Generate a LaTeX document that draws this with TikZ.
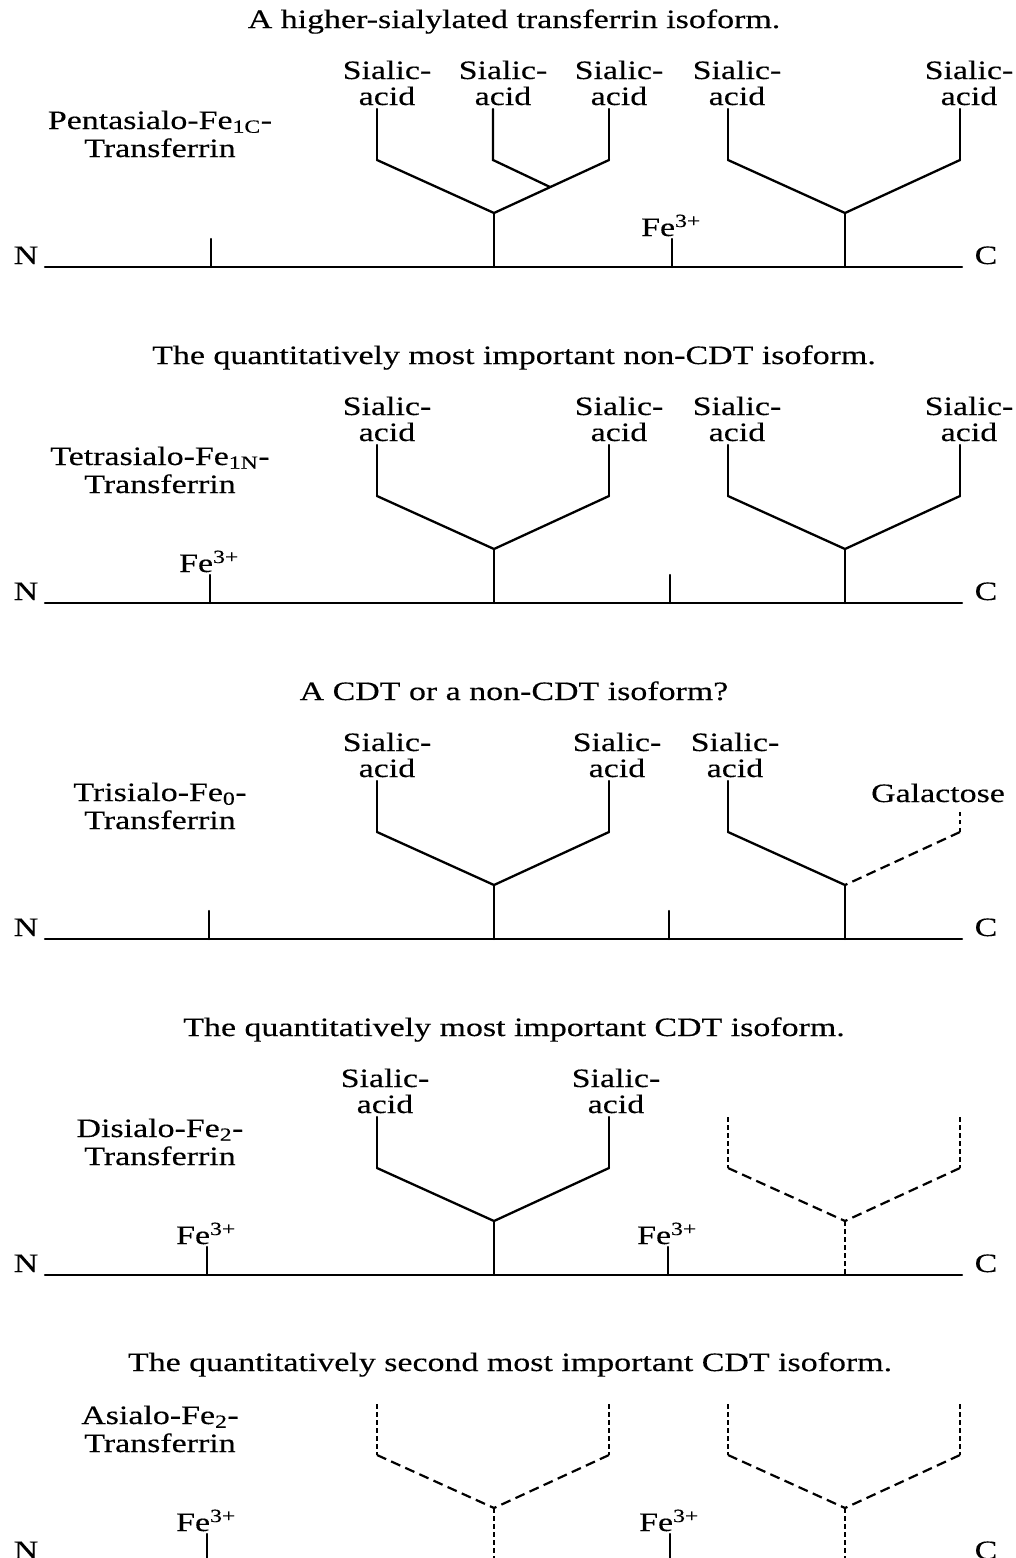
\documentclass[tikz,border=0pt]{standalone}
\usepackage{fontspec}
\setmainfont{Liberation Serif}[FakeStretch=1.28,FakeBold=0.3]
\newcommand\fs{\fontsize{26.5}{26}\selectfont}
\tikzset{
  ln/.style={line width=2.3pt, line cap=round},
  dl/.style={line width=2.2pt, line cap=butt, dash pattern=on 10pt off 5.5pt},
  dt/.style={line width=2.2pt, line cap=butt, dash pattern=on 4.5pt off 3.5pt},
  txt/.style={font=\fs, inner sep=0pt, anchor=base},
}
% tree: prefix, junction x, baseline, left-vert, left-diag, right-vert, right-diag, stem
\newcommand\tree[8]{%
  \coordinate (#1j) at (#2,#3-54);
  \coordinate (#1lt) at (#2-117,#3-158);
  \coordinate (#1lb) at (#2-117,#3-107);
  \coordinate (#1rt) at (#2+115,#3-158);
  \coordinate (#1rb) at (#2+115,#3-107);
  \coordinate (#1s) at (#2,#3);
  \draw[#4] (#1lt) -- (#1lb);
  \draw[#5] (#1lb) -- (#1j);
  \draw[#6] (#1rt) -- (#1rb);
  \draw[#7] (#1rb) -- (#1j);
  \draw[#8] (#1j) -- (#1s);}
\newcommand\sia[3]{%
  \node[txt] (#1a) at (#2,#3-188) {Sialic-};
  \node[txt] (#1b) at (#2,#3-162) {acid};}
\newcommand\lab[3]{%
  \node[txt] (#1a) at (160,#2-138) {#3};
  \node[txt] (#1b) at (160,#2-110) {Transferrin};}
\newcommand\chain[2]{%
  \node[txt] (#1N) at (26,#2-3) {N};
  \node[txt] (#1C) at (986,#2-3) {C};
  \coordinate (#1L) at (45,#2);
  \coordinate (#1R) at (962,#2);
  \draw[ln] (#1L) -- (#1R);}
\newcommand\stick[3]{%
  \coordinate (#1t) at (#2,#3-28);
  \coordinate (#1b) at (#2,#3);
  \draw[ln] (#1t) -- (#1b);}
\newcommand\fe[3]{\node[txt] (#1) at (#2-1,#3-31) {Fe\textsuperscript{3+}};}
\begin{document}
\begin{tikzpicture}[x=1pt,y=-1pt]
\fill[white] (0,0) rectangle (1015,1558);
\useasboundingbox (0,0) rectangle (1015,1558);
\clip (0,0) rectangle (1015,1558);

% ---------- Panel 1 ----------
\def\b{267}
\node[txt] (t1) at (514,\b-239) {A higher-sialylated transferrin isoform.};
\lab{pa}{\b}{Pentasialo-Fe\textsubscript{1C}-}
\sia{pa1}{387}{\b}\sia{pa2}{503}{\b}\sia{pa3}{619}{\b}\sia{pa4}{737}{\b}\sia{pa5}{969}{\b}
\tree{paL}{494}{\b}{ln}{ln}{ln}{ln}{ln}
\coordinate (paIt) at (493,\b-158);
\coordinate (paIb) at (493,\b-107);
\coordinate (paIj) at (550,\b-80);
\draw[ln] (paIt) -- (paIb) -- (paIj);
\tree{paR}{845}{\b}{ln}{ln}{ln}{ln}{ln}
\chain{pa}{\b}
\stick{pas1}{211}{\b}
\stick{pas2}{672}{\b}\fe{paf2}{672}{\b}

% ---------- Panel 2 ----------
\def\b{603}
\node[txt] (t2) at (514,\b-239) {The quantitatively most important non-CDT isoform.};
\lab{pb}{\b}{Tetrasialo-Fe\textsubscript{1N}-}
\sia{pb1}{387}{\b}\sia{pb3}{619}{\b}\sia{pb4}{737}{\b}\sia{pb5}{969}{\b}
\tree{pbL}{494}{\b}{ln}{ln}{ln}{ln}{ln}
\tree{pbR}{845}{\b}{ln}{ln}{ln}{ln}{ln}
\chain{pb}{\b}
\stick{pbs1}{210}{\b}\fe{pbf1}{210}{\b}
\stick{pbs2}{670}{\b}

% ---------- Panel 3 ----------
\def\b{939}
\node[txt] (t3) at (514,\b-239) {A CDT or a non-CDT isoform?};
\lab{pc}{\b}{Trisialo-Fe\textsubscript{0}-}
\sia{pc1}{387}{\b}\sia{pc3}{617}{\b}\sia{pc4}{735}{\b}
\node[txt] (pcG) at (938,\b-137) {Galactose};
\tree{pcL}{494}{\b}{ln}{ln}{ln}{ln}{ln}
\tree{pcR}{845}{\b}{ln}{ln}{draw=none}{dl}{ln}
\coordinate (pcGt) at (960,\b-130);
\draw[dt] (pcRrb) -- (pcGt);
\chain{pc}{\b}
\stick{pcs1}{209}{\b}
\stick{pcs2}{669}{\b}

% ---------- Panel 4 ----------
\def\b{1275}
\node[txt] (t4) at (514,\b-239) {The quantitatively most important CDT isoform.};
\lab{pd}{\b}{Disialo-Fe\textsubscript{2}-}
\sia{pd1}{385}{\b}\sia{pd3}{616}{\b}
\tree{pdL}{494}{\b}{ln}{ln}{ln}{ln}{ln}
\tree{pdR}{845}{\b}{dt}{dl}{dt}{dl}{dt}
\chain{pd}{\b}
\stick{pds1}{207}{\b}\fe{pdf1}{207}{\b}
\stick{pds2}{668}{\b}\fe{pdf2}{668}{\b}

% ---------- Panel 5 ----------
\def\b{1562}
\node[txt] (t5) at (510,\b-191) {The quantitatively second most important CDT isoform.};
\lab{pe}{\b}{Asialo-Fe\textsubscript{2}-}
\tree{peL}{494}{\b}{dt}{dl}{dt}{dl}{dt}
\tree{peR}{845}{\b}{dt}{dl}{dt}{dl}{dt}
\chain{pe}{\b}
\stick{pes1}{207}{\b}\fe{pef1}{207}{\b}
\stick{pes2}{670}{\b}\fe{pef2}{670}{\b}
\end{tikzpicture}
\end{document}
